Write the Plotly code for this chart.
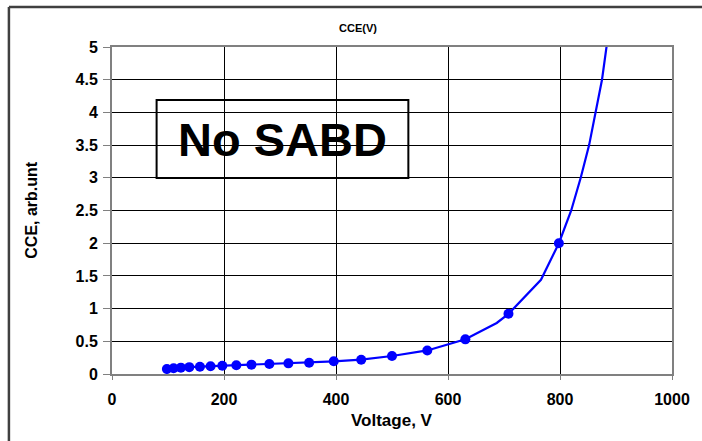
import plotly.graph_objects as go

# Measured points: bias voltage (V) and charge collection efficiency (arb. units)
voltage = [98, 110, 123, 138, 157, 176, 197, 222, 249, 281, 315, 352, 396, 445, 500, 563, 631, 708, 798]
cce = [0.076, 0.087, 0.097, 0.105, 0.112, 0.118, 0.127, 0.133, 0.143, 0.153, 0.163, 0.173, 0.194, 0.219, 0.275, 0.36, 0.53, 0.92, 2.0]

# Smoothed curve drawn through the measurements and extended past the last point
curve_v = [98, 110, 123, 138, 157, 176, 197, 222, 249, 281, 315, 352, 396, 445, 500, 563, 631, 687, 708, 766, 798, 820, 837, 852, 864, 875, 884]
curve_cce = [0.076, 0.087, 0.097, 0.105, 0.112, 0.118, 0.127, 0.133, 0.143, 0.153, 0.163, 0.173, 0.194, 0.219, 0.275, 0.36, 0.53, 0.78, 0.92, 1.44, 2.0, 2.5, 3.0, 3.5, 4.0, 4.5, 5.06]

x_ticks = [0, 200, 400, 600, 800, 1000]
x_tick_text = ["0", "200", "400", "600", "800", "1000"]
y_ticks = [0, 0.5, 1, 1.5, 2, 2.5, 3, 3.5, 4, 4.5, 5]
y_tick_text = ["0", "0.5", "1", "1.5", "2", "2.5", "3", "3.5", "4", "4.5", "5"]

FONT = "Arial, Liberation Sans, sans-serif"
BLUE = "#0000FF"

W, H = 702, 441
L, R, T, B = 112, 677, 47, 374  # plot-area edges in pixels


def px(x):
    return (x - L) / (R - L)


def py(y):
    return (B - y) / (B - T)


def bold(labels):
    return [f"<b>{t}</b>" for t in labels]


fig = go.Figure()
fig.add_trace(go.Scatter(x=curve_v, y=curve_cce, mode="lines",
                         line=dict(color=BLUE, width=2.2), hoverinfo="skip", showlegend=False))
fig.add_trace(go.Scatter(x=voltage, y=cce, mode="markers",
                         marker=dict(color=BLUE, size=10), showlegend=False))

fig.update_layout(
    width=W, height=H,
    margin=dict(l=L, r=W - R, t=T, b=H - B),
    paper_bgcolor="white", plot_bgcolor="white",
    font=dict(family=FONT, color="black"),
    xaxis=dict(range=[0, 1000], tickvals=x_ticks, ticktext=bold(x_tick_text),
               ticks="outside", ticklen=4, ticklabelstandoff=6,
               tickcolor="#808080", showgrid=True, gridcolor="black", gridwidth=1,
               zeroline=False, showline=True, linecolor="#808080", linewidth=2, mirror=True,
               tickfont=dict(family=FONT, size=16, color="black")),
    yaxis=dict(range=[0, 5], tickvals=y_ticks, ticktext=bold(y_tick_text),
               ticks="outside", ticklen=7, ticklabelstandoff=2,
               tickcolor="#808080", showgrid=True, gridcolor="black", gridwidth=1,
               zeroline=True, zerolinecolor="black", zerolinewidth=1.5,
               showline=True, linecolor="#808080", linewidth=2, mirror=True,
               tickfont=dict(family=FONT, size=16, color="black")),
)

annotations = [
    dict(text="<b>CCE(V)</b>", x=px(360), y=py(28), font=dict(size=11)),
    dict(text="<b>Voltage, V</b>", x=px(394), y=py(420), font=dict(size=17)),
    dict(text="<b>CCE, arb.unt</b>", x=px(30), y=py(210), textangle=-90, font=dict(size=16)),
    dict(text="<b>No SABD</b>", x=px(284), y=py(139), font=dict(size=47)),
]
for a in annotations:
    fig.add_annotation(xref="paper", yref="paper", showarrow=False,
                       xanchor="center", yanchor="middle",
                       font_family=FONT, font_color="black", **a)

shapes = [
    # label box
    dict(type="rect", x0=px(157), x1=px(411), y0=py(178), y1=py(100),
         line=dict(color="black", width=2)),
    # outer chart frame
    dict(type="line", x0=px(8), x1=px(710), y0=py(7), y1=py(7), line=dict(color="#404040", width=2.5)),
    dict(type="line", x0=px(8), x1=px(8), y0=py(7), y1=py(450), line=dict(color="#404040", width=2.5)),
]
for s in shapes:
    fig.add_shape(xref="paper", yref="paper", **s)

fig.write_html("out.html")
